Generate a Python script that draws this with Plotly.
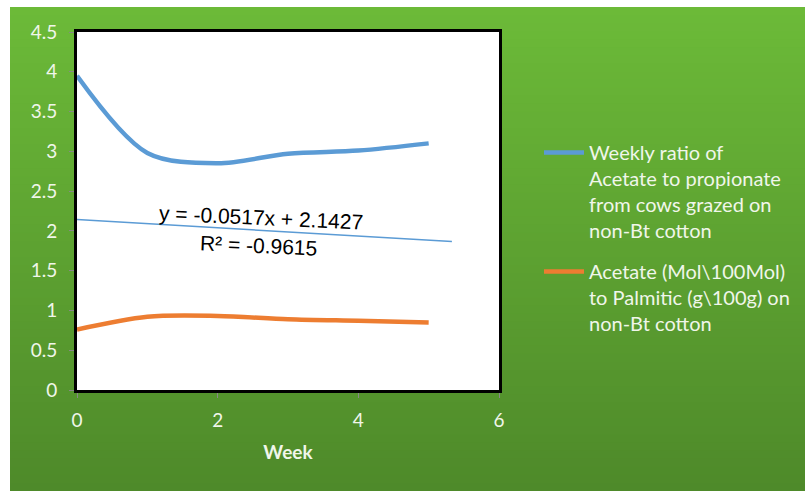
import plotly.graph_objects as go

# ---- data ----
weeks = [0, 1, 2, 3, 4, 5]
acetate_propionate = [3.95, 2.98, 2.85, 2.97, 3.01, 3.10]
acetate_palmitic = [0.76, 0.92, 0.93, 0.89, 0.87, 0.85]
trend_slope = -0.0517
trend_intercept = 2.1427
trend_r2_text = "R² = -0.9615"
trend_x = [0, 5.33]
trend_y = [trend_intercept + trend_slope * x for x in trend_x]

name_blue = "Weekly ratio of<br>Acetate to propionate<br>from cows grazed on<br>non-Bt cotton"
name_orange = "Acetate (Mol\\100Mol)<br>to Palmitic (g\\100g) on<br>non-Bt cotton"
x_title = "Week"
x_ticks = [0, 2, 4, 6]
y_ticks = [0, 0.5, 1, 1.5, 2, 2.5, 3, 3.5, 4, 4.5]

# ---- layout geometry (pixels) ----
W, H = 805, 491
L, R, T, B = 77, 499, 32, 390
pw, ph = R - L, B - T

def px(xp):
    return (xp - L) / pw

def py(yp):
    return (B - yp) / ph

text_col = "#f0f6ea"
font_ui = "Lato, 'Open Sans', sans-serif"

fig = go.Figure()
fig.add_trace(go.Scatter(
    x=weeks, y=acetate_propionate, mode="lines", name=name_blue,
    line=dict(color="#5b9bd5", width=4.5, shape="spline", smoothing=0.9),
    legendgroup="a"))
fig.add_trace(go.Scatter(
    x=weeks, y=acetate_palmitic, mode="lines", name=name_orange,
    line=dict(color="#ed7d31", width=4.5, shape="spline", smoothing=0.9),
    legendgroup="b"))
fig.add_trace(go.Scatter(
    x=trend_x, y=trend_y, mode="lines", showlegend=False,
    line=dict(color="#5b9bd5", width=1.5)))

# green gradient background
shapes = []
n = 60
top_c = (108, 186, 56)
bot_c = (78, 138, 42)
gy0, gy1 = 7, H
for i in range(n):
    f = i / (n - 1)
    c = tuple(int(round(top_c[k] + (bot_c[k] - top_c[k]) * f)) for k in range(3))
    y_top = gy0 + (gy1 - gy0) * i / n
    y_bot = gy0 + (gy1 - gy0) * (i + 1) / n + 1
    shapes.append(dict(type="rect", xref="paper", yref="paper", layer="below",
                       x0=px(10), x1=px(W + 10), y0=py(min(y_bot, H + 10)), y1=py(y_top),
                       line=dict(width=0), fillcolor="rgb(%d,%d,%d)" % c))
# white page edges (left and top)
shapes.append(dict(type="rect", xref="paper", yref="paper", layer="below",
                   x0=px(-10), x1=px(10), y0=py(H + 10), y1=py(-10),
                   line=dict(width=0), fillcolor="white"))
shapes.append(dict(type="rect", xref="paper", yref="paper", layer="below",
                   x0=px(-10), x1=px(W + 10), y0=py(7), y1=py(-10),
                   line=dict(width=0), fillcolor="white"))
shapes.append(dict(type="rect", xref="paper", yref="paper", layer="below",
                   x0=0, x1=1, y0=0, y1=1, line=dict(width=0), fillcolor="white"))

eq_text = "y = %.4fx + %.4f" % (trend_slope, trend_intercept)
eq_font = dict(family="'Liberation Sans', Arial, sans-serif", size=21, color="black")
annotations = [
    dict(x=2.62, y=2.17, xref="x", yref="y", text=eq_text, showarrow=False,
         textangle=2.6, font=eq_font),
    dict(x=2.58, y=1.82, xref="x", yref="y", text=trend_r2_text, showarrow=False,
         textangle=2.6, font=eq_font),
]

fig.update_layout(
    width=W, height=H,
    margin=dict(l=L, r=W - R, t=T, b=H - B, autoexpand=False),
    paper_bgcolor="rgb(%d,%d,%d)" % bot_c, plot_bgcolor="white",
    shapes=shapes, annotations=annotations,
    showlegend=True,
    legend=dict(x=px(539), y=py(133), xanchor="left", yanchor="top",
                valign="top", tracegroupgap=12,
                font=dict(family=font_ui, size=20, color=text_col),
                bgcolor="rgba(0,0,0,0)", itemwidth=40),
    xaxis=dict(range=[0, 6], tickvals=x_ticks, showgrid=False, zeroline=False,
               showline=True, linecolor="black", linewidth=3, mirror=True,
               ticks="outside", ticklen=5, tickcolor="#888888",
               ticklabelstandoff=6,
               tickfont=dict(family=font_ui, size=19, color=text_col)),
    yaxis=dict(range=[0, 4.5], tickvals=y_ticks, showgrid=False, zeroline=False,
               showline=True, linecolor="black", linewidth=3, mirror=True,
               ticks="outside", ticklen=5, tickcolor="#888888",
               ticklabelstandoff=8,
               tickfont=dict(family=font_ui, size=19, color=text_col)),
)
fig.update_xaxes(title=dict(text="<b>%s</b>" % x_title, standoff=16,
                            font=dict(family=font_ui, size=19, color=text_col)))

fig.write_html("out.html",
               post_script="document.body.style.margin='0';document.body.style.background='rgb(78,138,42)';")
